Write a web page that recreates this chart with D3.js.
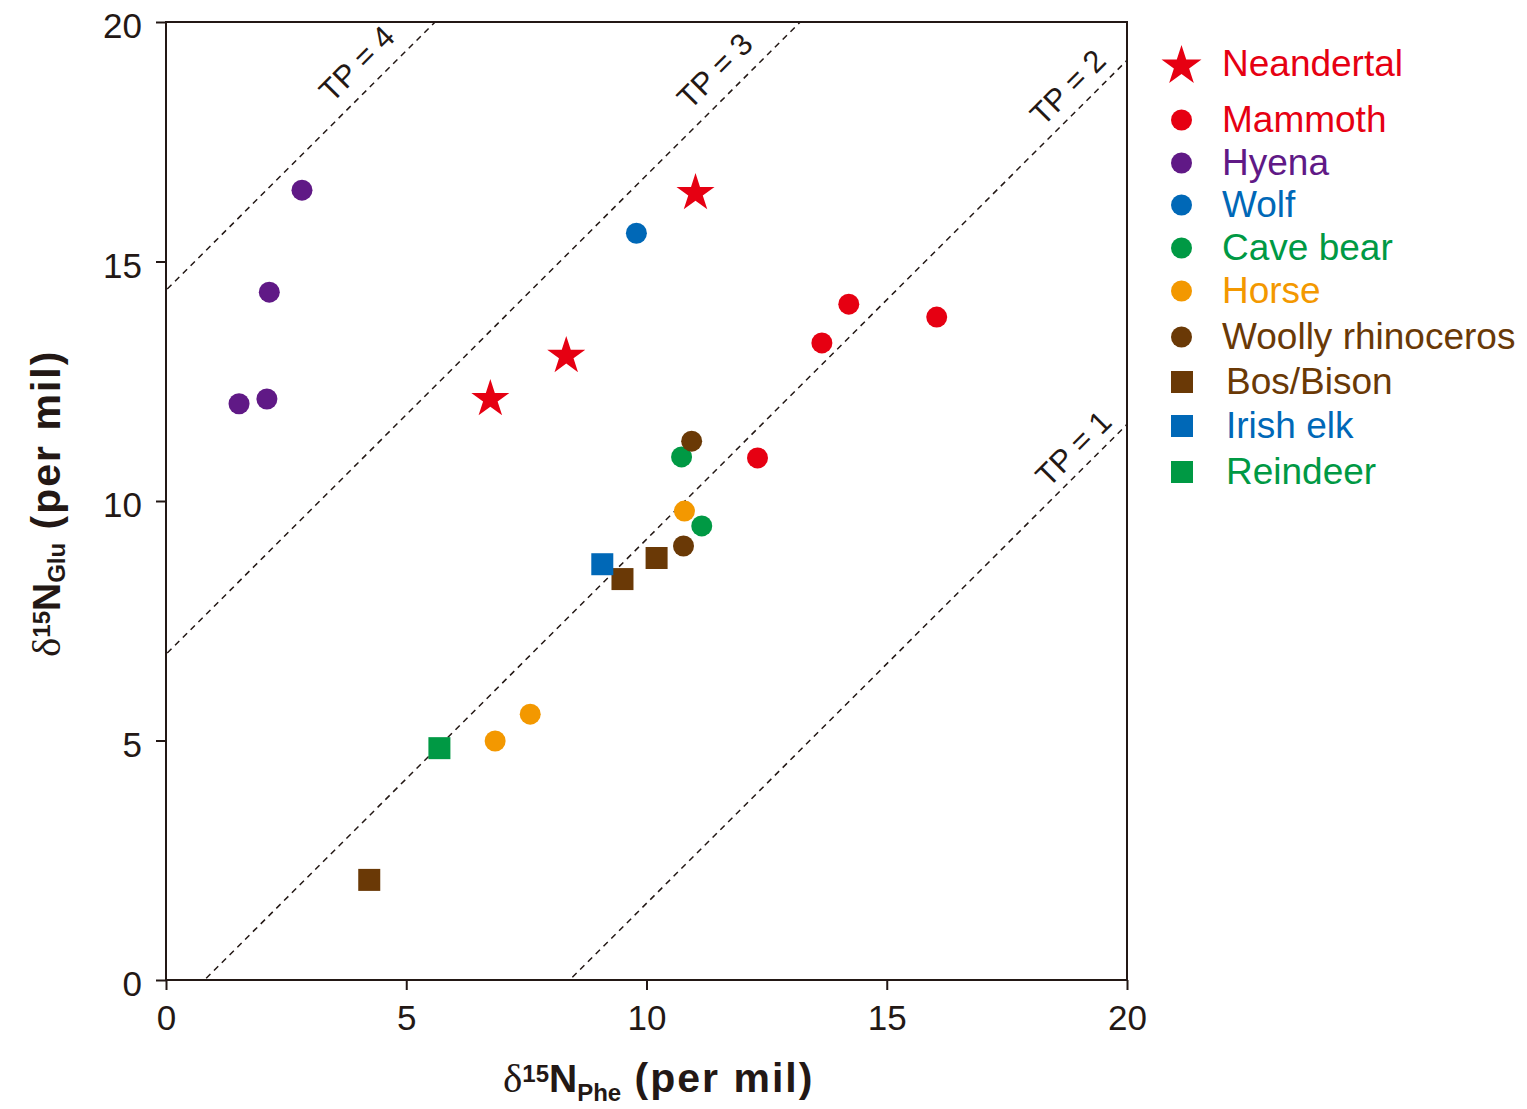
<!DOCTYPE html>
<html>
<head>
<meta charset="utf-8">
<script src="https://cdnjs.cloudflare.com/ajax/libs/d3/7.8.5/d3.min.js"></script>
<style>
  body { margin: 0; background: #fff; }
  text { font-family: "Liberation Sans", Arial, sans-serif; }
</style>
</head>
<body>
<div id="chart"></div>
<script>
'use strict';

// data: [δ15N Phe, δ15N Glu] pairs
var neandertal = [[6.75, 12.17], [8.33, 13.07], [11.02, 16.47]];
var mammoth    = [[12.31, 10.90], [13.65, 13.30], [14.21, 14.11], [16.04, 13.84]];
var hyena      = [[1.52, 12.03], [2.10, 12.13], [2.15, 14.36], [2.83, 16.49]];
var wolf       = [[9.79, 15.59]];
var caveBear   = [[10.73, 10.92], [11.15, 9.48]];
var horse      = [[10.79, 9.79], [6.85, 4.99], [7.58, 5.55]];
var woollyRhino = [[10.94, 11.25], [10.77, 9.06]];
var bosBison   = [[4.23, 2.09], [9.50, 8.37], [10.21, 8.81]];
var irishElk   = [[9.08, 8.68]];
var reindeer   = [[5.69, 4.84]];

var speciesNames = ['Neandertal', 'Mammoth', 'Hyena', 'Wolf', 'Cave bear', 'Horse',
                    'Woolly rhinoceros', 'Bos/Bison', 'Irish elk', 'Reindeer'];
var speciesData = [neandertal, mammoth, hyena, wolf, caveBear, horse,
                   woollyRhino, bosBison, irishElk, reindeer];
var speciesShape = ['star', 'circle', 'circle', 'circle', 'circle', 'circle',
                    'circle', 'square', 'square', 'square'];

// trophic position lines: Glu = Phe - 8.4 + 7.6 * (TP - 1)
var tpLevels = [1, 2, 3, 4];
var tpBeta = -8.4;
var tpTdf = 7.6;
var axisTicks = [0, 5, 10, 15, 20];

var colors = {
    'Neandertal': '#e60012',
    'Mammoth': '#e60012',
    'Hyena': '#601986',
    'Wolf': '#0068b7',
    'Cave bear': '#009944',
    'Horse': '#f39800',
    'Woolly rhinoceros': '#6a3906',
    'Bos/Bison': '#6a3906',
    'Irish elk': '#0068b7',
    'Reindeer': '#009944'
};

var width = 1527, height = 1109;
var ink = '#231815';

var svg = d3.select('#chart')
    .append('svg')
    .attr('width', width)
    .attr('height', height);

var x = d3.scaleLinear().domain([0, 20]).range([166, 1127]);
var y = d3.scaleLinear().domain([0, 20]).range([980, 22]);

svg.append('clipPath')
    .attr('id', 'plot-clip')
    .append('rect')
    .attr('x', x(0)).attr('y', y(20))
    .attr('width', x(20) - x(0)).attr('height', y(0) - y(20));

// TP dashed lines
var tpGroup = svg.append('g').attr('clip-path', 'url(#plot-clip)');
tpLevels.forEach(function(tp) {
    var off = tpBeta + tpTdf * (tp - 1);
    tpGroup.append('line')
        .attr('x1', x(-5)).attr('y1', y(-5 + off))
        .attr('x2', x(25)).attr('y2', y(25 + off))
        .attr('stroke', ink)
        .attr('stroke-width', 1.5)
        .attr('stroke-dasharray', '6,5');
});

// labels sit near the upper end of each line (tp 1..4)
var tpLabelAt = [19.19, 19.1, 11.8, 4.35];
var tpLabelGap = [10, 12, 15, 15];
tpLevels.forEach(function(tp, i) {
    var off = tpBeta + tpTdf * (tp - 1);
    var px = tpLabelAt[i];
    svg.append('text')
        .attr('transform', 'translate(' + x(px) + ',' + y(px + off) + ') rotate(-45)')
        .attr('text-anchor', 'middle')
        .attr('dy', -tpLabelGap[i])
        .attr('font-size', 31)
        .attr('fill', ink)
        .text('TP = ' + tp);
});

// axes
var xAxis = svg.append('g')
    .attr('transform', 'translate(0,' + y(0) + ')')
    .call(d3.axisBottom(x).tickValues(axisTicks).tickSize(10).tickSizeOuter(0).tickPadding(15));

var yAxis = svg.append('g')
    .attr('transform', 'translate(' + x(0) + ',0)')
    .call(d3.axisLeft(y).tickValues(axisTicks).tickSize(10).tickSizeOuter(0).tickPadding(14));

[xAxis, yAxis].forEach(function(a) {
    a.select('.domain').remove();
    a.selectAll('line').attr('stroke', ink).attr('stroke-width', 2);
    a.selectAll('text')
        .attr('font-family', '"Liberation Sans", Arial, sans-serif')
        .attr('font-size', 35)
        .attr('fill', ink);
});
yAxis.selectAll('text').attr('dy', '0.45em');

svg.append('rect')
    .attr('x', x(0)).attr('y', y(20))
    .attr('width', x(20) - x(0)).attr('height', y(0) - y(20))
    .attr('fill', 'none')
    .attr('stroke', ink)
    .attr('stroke-width', 2);

// marks
function drawSymbol(g, shape, color, cx, cy, big) {
    if (shape === 'circle') {
        g.append('circle').attr('cx', cx).attr('cy', cy).attr('r', 10.5).attr('fill', color);
    } else if (shape === 'square') {
        g.append('rect').attr('x', cx - 11).attr('y', cy - 11)
            .attr('width', 22).attr('height', 22).attr('fill', color);
    } else {
        var r = big ? 21 : 20;
        g.append('path')
            .attr('transform', 'translate(' + cx + ',' + (cy + 2) + ')')
            .attr('d', d3.symbol().type(d3.symbolStar).size(r * r / 0.8908130915292852)())
            .attr('fill', color);
    }
}

var marks = svg.append('g');
speciesNames.forEach(function(name, i) {
    speciesData[i].forEach(function(d) {
        drawSymbol(marks, speciesShape[i], colors[name], x(d[0]), y(d[1]), false);
    });
});

// legend
var legendRowY = [64, 120, 163, 205, 248, 291, 337, 382, 426, 472];
var legend = svg.append('g');
speciesNames.forEach(function(name, i) {
    var ly = legendRowY[i];
    var isSquare = speciesShape[i] === 'square';
    drawSymbol(legend, speciesShape[i], colors[name], isSquare ? 1182 : 1181.5, ly, true);
    legend.append('text')
        .attr('x', isSquare ? 1226 : 1222)
        .attr('y', ly)
        .attr('dy', '0.33em')
        .attr('font-size', 37)
        .attr('fill', colors[name])
        .text(name);
});

// axis titles
function axisTitle(t, sub, subShift) {
    t.attr('fill', ink).attr('font-weight', 'bold');
    t.append('tspan').attr('font-family', '"Liberation Serif", serif')
        .attr('font-weight', 'normal').attr('font-size', 41).text('δ');
    t.append('tspan').attr('font-size', 24).attr('dy', -10).text('15');
    t.append('tspan').attr('font-size', 39).attr('dy', 10).text('N');
    t.append('tspan').attr('font-size', 24).attr('dy', subShift).text(sub);
    t.append('tspan').attr('font-size', 41).attr('letter-spacing', 2)
        .attr('dy', -subShift).text(' (per mil)');
}

axisTitle(svg.append('text').attr('x', 503).attr('y', 1092), 'Phe', 9);
axisTitle(svg.append('text').attr('transform', 'translate(60,657) rotate(-90)'), 'Glu', 5);
</script>
</body>
</html>
